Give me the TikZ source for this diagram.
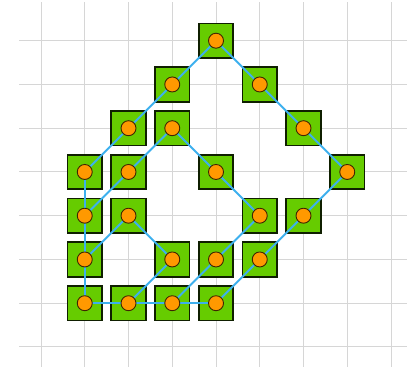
\documentclass[tikz,border=0pt]{standalone}
\begin{document}
\begin{tikzpicture}[x=1pt,y=-1pt]
\definecolor{boxg}{HTML}{66CC00}
\definecolor{dotor}{HTML}{FF9900}
\definecolor{linkb}{HTML}{3DB0EE}
\definecolor{gridg}{HTML}{D6D6D6}
\tikzset{
  gridline/.style={draw=gridg,line width=1pt},
  cellbox/.style={draw=black!85!boxg,fill=boxg,line width=1.8pt,minimum size=34.5pt,inner sep=0pt,shape=rectangle},
  dot/.style={draw=black!75!dotor,fill=dotor,line width=0.9pt,circle,minimum size=15pt,inner sep=0pt},
  link/.style={draw=linkb,line width=2pt}}
\useasboundingbox (0,0) rectangle (414,368);
% grid
\foreach \i in {0,...,8}
  \draw[gridline] (41+43.75*\i,2) -- (41+43.75*\i,367);
\foreach \j in {0,...,7}
  \draw[gridline] (19,40.7+43.75*\j) -- (407,40.7+43.75*\j);
% squares and centres
\foreach \c/\r in {4/0,3/1,5/1,2/2,3/2,6/2,1/3,2/3,4/3,7/3,1/4,2/4,5/4,6/4,1/5,3/5,4/5,5/5,1/6,2/6,3/6,4/6}{
  \node[cellbox] (b\c\r) at (41+43.75*\c,40.7+43.75*\r) {};
  \coordinate (p\c\r) at (b\c\r.center);
}
% links
\foreach \a/\b in {40/31,40/51,31/22,22/13,13/14,14/15,15/16,16/26,26/36,36/46,
  51/62,62/73,73/64,64/55,55/46,32/23,23/14,32/43,43/54,54/45,45/36,24/15,24/35,35/26}
  \draw[link] (p\a) -- (p\b);
% dots
\foreach \c/\r in {4/0,3/1,5/1,2/2,3/2,6/2,1/3,2/3,4/3,7/3,1/4,2/4,5/4,6/4,1/5,3/5,4/5,5/5,1/6,2/6,3/6,4/6}
  \node[dot] (d\c\r) at (p\c\r) {};
\end{tikzpicture}
\end{document}
